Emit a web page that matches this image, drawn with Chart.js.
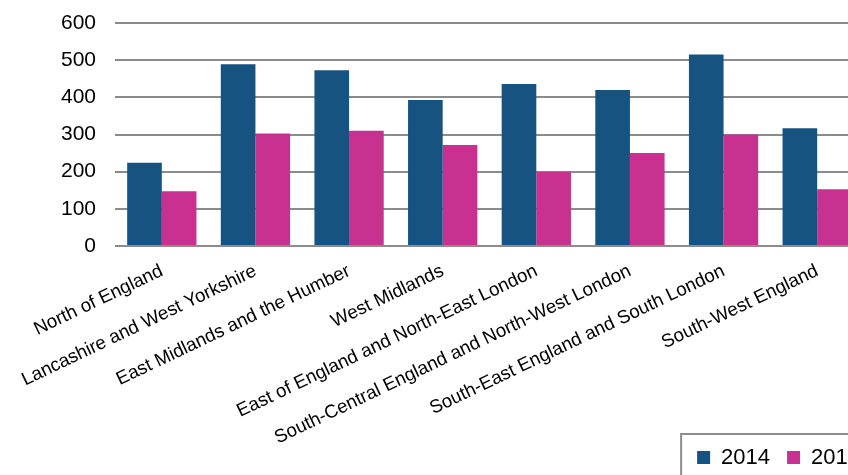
<!DOCTYPE html>
<html>
<head>
<meta charset="utf-8">
<script src="https://cdn.jsdelivr.net/npm/chart.js@4.4.0/dist/chart.umd.min.js"></script>
<style>
  html, body { margin: 0; padding: 0; background: #fff; overflow: hidden; }
  #wrap { width: 848px; height: 475px; overflow: hidden; position: relative; }
  canvas { display: block; }
</style>
</head>
<body>
<div id="wrap"><canvas id="chart" width="880" height="496"></canvas></div>
<script>
const regions = [
    'North of England',
    'Lancashire and West Yorkshire',
    'East Midlands and the Humber',
    'West Midlands',
    'East of England and North-East London',
    'South-Central England and North-West London',
    'South-East England and South London',
    'South-West England'
];
const series2014 = [224, 489, 473, 393, 436, 420, 515, 317];
const series2016 = [147, 303, 310, 272, 200, 250, 300, 153];
const yMin = 0;
const yMax = 600;
const yStep = 100;

// the legend sits beside the long rotated labels, so lift it up a bit after layout
// and draw the grey frame round it (it runs off the right edge, as in the original)
const legendFrame = {
    id: 'legendFrame',
    afterLayout(chart) {
        const lg = chart.legend;
        if (!lg) return;
        lg.top -= 17.5;
        lg.bottom -= 17.5;
        if (lg.legendHitBoxes) lg.legendHitBoxes.forEach(hb => { hb.top -= 17.5; });
    },
    afterDraw(chart) {
        const lg = chart.legend;
        if (!lg || !lg.legendHitBoxes.length) return;
        const hb = lg.legendHitBoxes[0];
        const ctx = chart.ctx;
        ctx.save();
        ctx.strokeStyle = '#8c8c8c';
        ctx.lineWidth = 2;
        ctx.strokeRect(hb.left - 16, lg.top + 4.5, 400, 200);
        ctx.restore();
    }
};

const ctx = document.getElementById('chart').getContext('2d');
new Chart(ctx, {
    type: 'bar',
    data: {
        labels: regions,
        datasets: [
            {
                label: '2014',
                data: series2014,
                backgroundColor: '#175380',
                borderWidth: 0,
                categoryPercentage: 0.74,
                barPercentage: 1.0
            },
            {
                label: '2016',
                data: series2016,
                backgroundColor: '#c83190',
                borderWidth: 0,
                categoryPercentage: 0.74,
                barPercentage: 1.0
            }
        ]
    },
    options: {
        responsive: false,
        animation: false,
        devicePixelRatio: 1,
        layout: { padding: { top: 23, right: 3, bottom: 0, left: 0 } },
        plugins: {
            legend: {
                position: 'bottom',
                align: 'end',
                labels: {
                    boxWidth: 13,
                    boxHeight: 13,
                    padding: 17,
                    color: '#000',
                    font: { family: 'Liberation Sans, Arial, sans-serif', size: 22 }
                }
            },
            tooltip: { enabled: false }
        },
        scales: {
            x: {
                grid: { display: false },
                border: { display: false },
                ticks: {
                    autoSkip: false,
                    maxRotation: 25.5,
                    minRotation: 25.5,
                    padding: 6,
                    color: '#000',
                    font: { family: 'Liberation Sans, Arial, sans-serif', size: 18.7 }
                },
                afterFit: s => { s.height = 201; }
            },
            y: {
                min: yMin,
                max: yMax,
                grid: {
                    color: '#8c8c8c',
                    lineWidth: 2,
                    drawTicks: true,
                    tickLength: 19,
                    tickColor: 'rgba(0,0,0,0)'
                },
                border: { display: false },
                ticks: {
                    stepSize: yStep,
                    padding: 0,
                    color: '#000',
                    font: { family: 'Liberation Sans, Arial, sans-serif', size: 21 }
                },
                afterFit: s => { s.width = 115; }
            },
            spacer: {
                type: 'linear',
                position: 'right',
                grid: { display: false },
                border: { display: false },
                ticks: { display: false },
                afterFit: s => { s.width = 13; }
            }
        }
    },
    plugins: [legendFrame]
});
</script>
</body>
</html>
